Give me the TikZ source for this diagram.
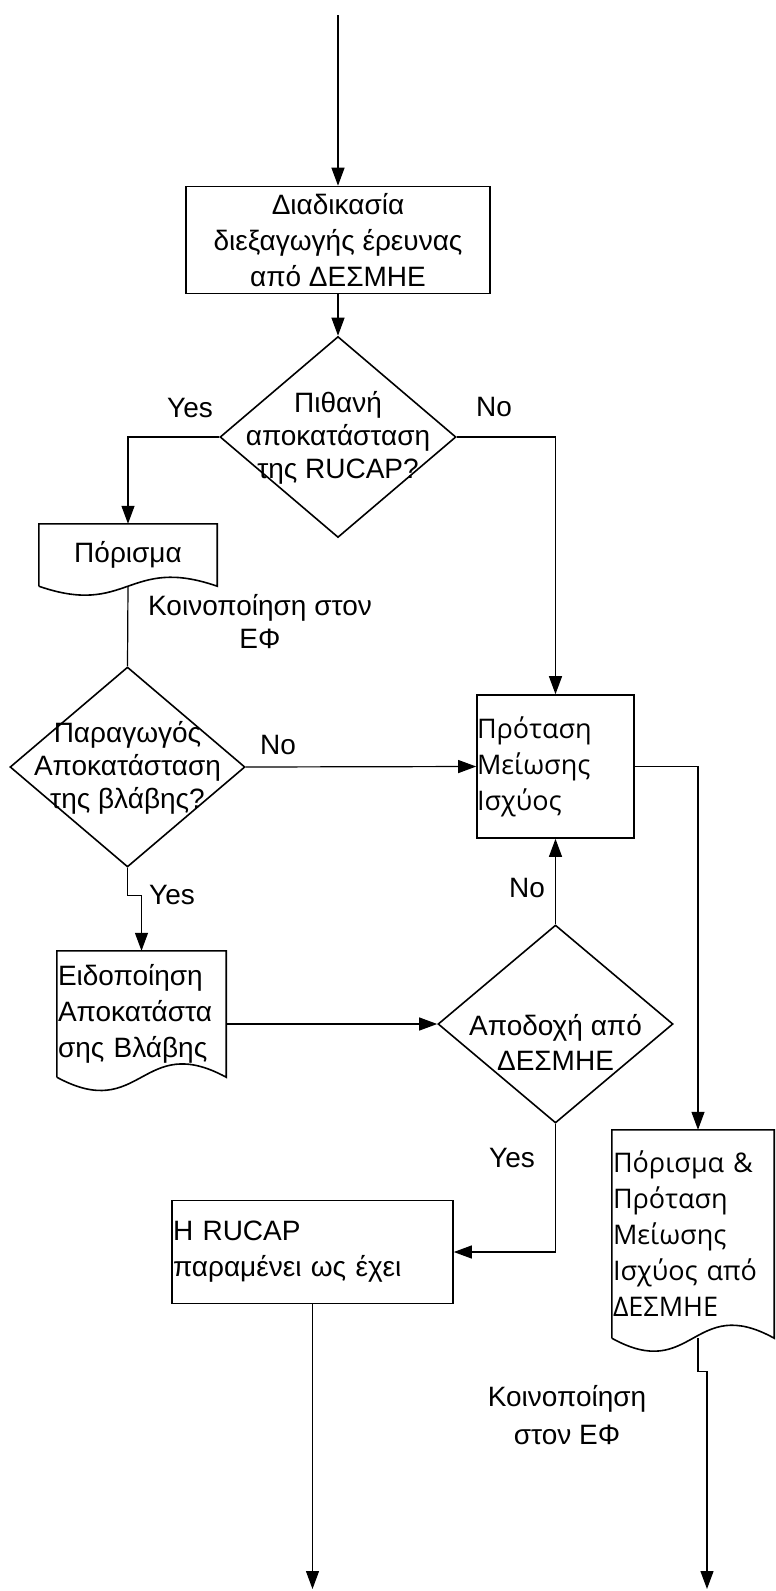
\documentclass[tikz,border=0pt]{standalone}
\usepackage{fontspec}
\setmainfont{Liberation Sans}
\newfontfamily\humfont{Open Sans}
\usetikzlibrary{shapes.geometric,arrows.meta,calc}

\tikzset{
  line/.style={line width=1.2pt},
  arr/.style={line,-{Triangle[length=18pt,width=13pt]}},
  proc/.style={draw,line width=1.6pt,rectangle,inner sep=0pt,
    font=\fontsize{28}{36}\selectfont},
  decision/.style={draw,line width=1.6pt,diamond,inner sep=0pt},
  doc/.style={rectangle,inner sep=0pt,font=\fontsize{28}{36}\selectfont},
  txt/.style={inner sep=0pt,align=center,font=\fontsize{28}{33}\selectfont},
}

% document symbol: box with a wavy bottom edge
\newcommand\docoutline[2]{%
  \draw[line width=1.6pt] (#1.south west) -- (#1.north west) -- (#1.north east) -- (#1.south east)
    .. controls ($(#1.south)+(0,-#2)$) and ($(#1.south)+(0,#2)$) .. (#1.south west);}

\begin{document}
\begin{tikzpicture}[x=1pt,y=-1pt]
    \useasboundingbox (0,0) rectangle (776,1591);

    \coordinate (start) at (338,15);
    \node[proc,minimum width=304pt,minimum height=107pt,align=center] (init) at (338,240)
        {Διαδικασία\\διεξαγωγής έρευνας\\από ΔΕΣΜΗΕ};

    \node[decision,minimum width=236pt,minimum height=201pt] (d1) at (338,437) {};
    \node[txt] (d1t) at (338,438) {Πιθανή\\αποκατάσταση\\της RUCAP?};

    \node[doc,minimum width=178pt,minimum height=62pt] (por) at (128,555) {Πόρισμα};
    \docoutline{por}{31}

    \node[decision,minimum width=235pt,minimum height=200pt] (d2) at (127.5,767) {};
    \node[txt] (d2t) at (127.5,768) {Παραγωγός\\Αποκατάσταση\\της βλάβης?};

    \node[proc,minimum width=157pt,minimum height=143pt,text width=157pt,align=left,
        font=\humfont\fontsize{27}{36}\selectfont] (prot) at (555.5,766.5)
        {Πρόταση\\Μείωσης\\Ισχύος};

    \node[doc,minimum width=169pt,minimum height=126pt,text width=167pt,align=left] (eid) at (141.5,1014)
        {Ειδοποίηση\\Αποκατάστα\\σης Βλάβης};
    \docoutline{eid}{46}

    \node[decision,minimum width=235pt,minimum height=198pt] (d3) at (555.5,1024) {};
    \node[txt,font=\fontsize{28}{35}\selectfont] (d3t) at (555.5,1042) {Αποδοχή από\\ΔΕΣΜΗΕ};

    \node[doc,minimum width=162pt,minimum height=208pt,text width=160pt,align=left,
        font=\humfont\fontsize{27}{36}\selectfont] (porp) at (693,1234)
        {Πόρισμα \&\\Πρόταση\\Μείωσης\\Ισχύος από\\ΔΕΣΜΗΕ};
    \docoutline{porp}{45}

    \node[proc,minimum width=281pt,minimum height=103pt,text width=279pt,align=left] (rucap) at (312.5,1252)
        {Η RUCAP\\παραμένει ως έχει};

    \coordinate (end1) at (312.5,1589);
    \coordinate (end2) at (707,1589);

    % connectors
    \draw[arr] (start) -- (init);
    \draw[arr] (init) -- (d1);
    \draw[arr] (d1.west) -| (por.north);
    \draw[arr] (d1.east) -| (prot.north);
    \draw[line] (por.south) -- (d2.north);
    \draw[arr] (d2.east) -- (prot.west);
    \draw[arr] (d2.south) -- ++(0,28) -| (eid.north);
    \draw[arr] (d3.west -| eid.east) -- (d3.west);
    \draw[arr] (d3.north) -- (prot.south);
    \draw[arr] (d3.south) |- (rucap.east);
    \draw[arr] (prot.east) -| ([xshift=5pt]porp.north);
    \draw[arr] (rucap.south) -- (end1);
    \draw[arr] ([xshift=5pt]porp.south) -- ++(0,33) -| (end2);

    % branch labels
    \node[txt] (lyes1) at (190,408) {Yes};
    \node[txt] (lno1) at (494,407) {No};
    \node[txt] (lkoin1) at (260,622) {Κοινοποίηση στον\\ΕΦ};
    \node[txt] (lno2) at (278,745) {No};
    \node[txt] (lyes2) at (172,895) {Yes};
    \node[txt] (lno3) at (527,888) {No};
    \node[txt] (lyes3) at (512,1158) {Yes};
    \node[txt,font=\fontsize{28}{38}\selectfont] (lkoin2) at (567,1415) {Κοινοποίηση\\στον ΕΦ};
\end{tikzpicture}
\end{document}
